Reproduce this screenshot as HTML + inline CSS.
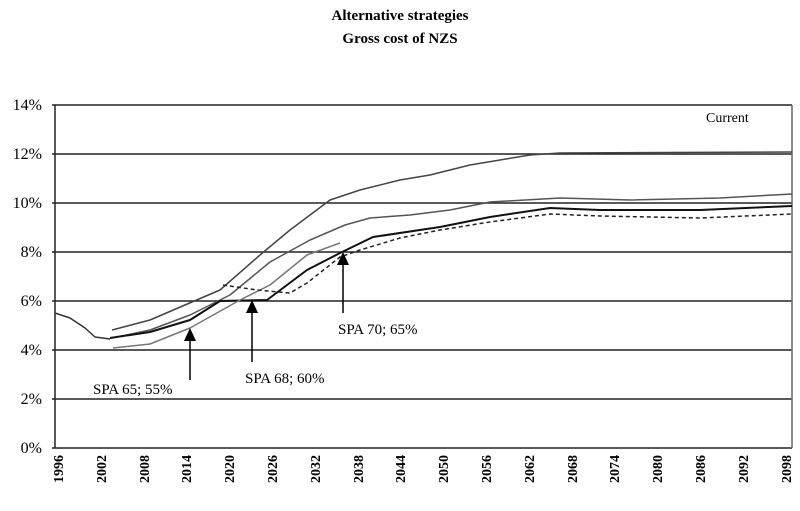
<!DOCTYPE html>
<html><head><style>
body{margin:0;background:#fff;}
svg{display:block;font-family:"Liberation Serif",serif;}
</style></head><body>
<svg width="800" height="511" viewBox="0 0 800 511">
<text x="400" y="20" text-anchor="middle" font-size="15" font-weight="bold">Alternative strategies</text>
<text x="400" y="43" text-anchor="middle" font-size="15" font-weight="bold">Gross cost of NZS</text>
<g stroke="#222" stroke-width="1.5">
<line x1="52" y1="105" x2="792" y2="105"/>
<line x1="52" y1="154" x2="792" y2="154"/>
<line x1="52" y1="203" x2="792" y2="203"/>
<line x1="52" y1="252" x2="792" y2="252"/>
<line x1="52" y1="301" x2="792" y2="301"/>
<line x1="52" y1="350" x2="792" y2="350"/>
<line x1="52" y1="399" x2="792" y2="399"/>
<line x1="52" y1="448" x2="792" y2="448"/>
<line x1="55" y1="105" x2="55" y2="448"/>
<line x1="792" y1="105" x2="792" y2="448" stroke="#666"/>
</g>
<g font-size="16" text-anchor="end">
<text x="42" y="110">14%</text><text x="42" y="159">12%</text><text x="42" y="208">10%</text>
<text x="42" y="257">8%</text><text x="42" y="306">6%</text><text x="42" y="355">4%</text>
<text x="42" y="404">2%</text><text x="42" y="453">0%</text>
</g>
<g font-size="14" font-weight="bold" text-anchor="end">
<text transform="translate(63,455) rotate(-90)">1996</text>
<text transform="translate(106,455) rotate(-90)">2002</text>
<text transform="translate(149,455) rotate(-90)">2008</text>
<text transform="translate(191,455) rotate(-90)">2014</text>
<text transform="translate(234,455) rotate(-90)">2020</text>
<text transform="translate(277,455) rotate(-90)">2026</text>
<text transform="translate(320,455) rotate(-90)">2032</text>
<text transform="translate(363,455) rotate(-90)">2038</text>
<text transform="translate(405,455) rotate(-90)">2044</text>
<text transform="translate(448,455) rotate(-90)">2050</text>
<text transform="translate(491,455) rotate(-90)">2056</text>
<text transform="translate(534,455) rotate(-90)">2062</text>
<text transform="translate(577,455) rotate(-90)">2068</text>
<text transform="translate(619,455) rotate(-90)">2074</text>
<text transform="translate(662,455) rotate(-90)">2080</text>
<text transform="translate(705,455) rotate(-90)">2086</text>
<text transform="translate(748,455) rotate(-90)">2092</text>
<text transform="translate(791,455) rotate(-90)">2098</text>
</g>
<g fill="none" stroke-width="1.5" stroke-linejoin="round">
<polyline stroke="#333" points="55,313 70,318 85,328 95,337 110,339"/>
<polyline stroke="#444" points="112,330 150,320 185,305 220,290 260,255 290,230 330,200 360,190 400,180 430,175 470,165 530,155 560,153 792,152"/>
<polyline stroke="#555" points="112,338 150,330 190,315 230,295 270,262 310,240 345,225 370,218 410,215 450,210 490,202 560,198 630,200 720,198 792,194"/>
<polyline stroke="#111" stroke-width="2" points="110,338 150,332 190,320 220,301 267,300 307,270 340,253 373,237 440,227 490,217 550,208 600,210 700,210 792,206"/>
<polyline stroke="#777" points="113,348 150,344 190,328 240,300 270,285 307,255 340,243"/>
<polyline stroke="#222" stroke-dasharray="4,3" points="223,285 257,290 290,293 307,283 340,257 360,250 400,238 440,230 490,222 550,214 600,216 700,218 792,214"/>
</g>
<g stroke="#000" stroke-width="1.5">
<line x1="190" y1="340" x2="190" y2="380"/>
<line x1="252" y1="312" x2="252" y2="362"/>
<line x1="343" y1="264" x2="343" y2="313"/>
</g>
<g fill="#000">
<polygon points="190,328 184,341 196,341"/>
<polygon points="252,300 246,313 258,313"/>
<polygon points="343,252 337,265 349,265"/>
</g>
<g font-size="15">
<text x="93" y="394">SPA 65; 55%</text>
<text x="245" y="383">SPA 68; 60%</text>
<text x="338" y="334">SPA 70; 65%</text>
<text x="706" y="122" font-size="14">Current</text>
</g>
</svg>
</body></html>
